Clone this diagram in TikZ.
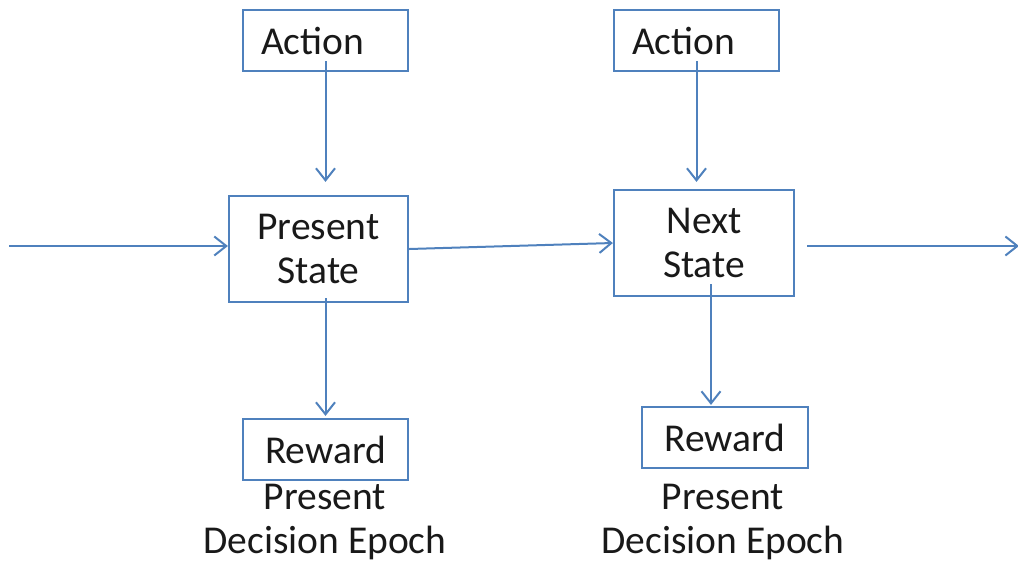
\documentclass[tikz,border=0pt]{standalone}
\usepackage{fontspec}
\setmainfont{Carlito}
\usetikzlibrary{arrows.meta}
\definecolor{lineblue}{HTML}{4F81BD}
\begin{document}
\begin{tikzpicture}[x=1pt,y=1pt,
  every node/.style={font=\fontsize{39.5}{44}\selectfont, text=black!90},
  box/.style={draw=lineblue, line width=2.2pt, inner sep=0pt, minimum height=61pt},
  statebox/.style={draw=lineblue, line width=2.2pt, inner sep=0pt, align=center, minimum height=106pt},
  leftbox/.style={box, text width=129pt, inner xsep=18pt, align=left},
  epoch/.style={align=center, inner sep=0pt},
  flow/.style={draw=lineblue, line width=2pt, -{Straight Barb[length=12pt,width=19pt]}}]
  \useasboundingbox (0,0) rectangle (1018,-563);

  % first decision epoch
  \node[leftbox] (a1) at (325.5,-40.5) {Action};
  \node[statebox, minimum width=179pt] (ps) at (318.5,-249) {Present\\State};
  \node[box, minimum width=165pt] (r1) at (325.5,-449.5) {Reward};
  \node[epoch] (e1) at (325,-522) {Present\\Decision Epoch};

  % second decision epoch
  \node[leftbox] (a2) at (696.5,-40.5) {Action};
  \node[statebox, minimum width=180pt] (ns) at (704,-243) {Next\\State};
  \node[box, minimum width=166pt] (r2) at (725,-437.5) {Reward};
  \node[epoch] (e2) at (723,-522) {Present\\Decision Epoch};

  % loose ends of the chain
  \coordinate (in) at (9,-246);
  \coordinate (outa) at (807,-246);
  \coordinate (outb) at (1019,-246);

  % connectors
  \draw[flow] (in) -- (in -| ps.west);
  \draw[flow] (ps.east) -- (ns.west);
  \draw[flow] (outa) -- (outb);
  \draw[flow] ([yshift=11pt]a1.south) -- ([yshift=13pt]a1.south |- ps.north);
  \draw[flow] ([yshift=11pt]a2.south) -- ([yshift=7pt]a2.south |- ns.north);
  \draw[flow] ([yshift=5pt]r1.north |- ps.south) -- ([yshift=2pt]r1.north);
  \draw[flow] ([xshift=7pt,yshift=13pt]ns.south) -- ([xshift=7pt,yshift=1pt]ns.south |- r2.north);
\end{tikzpicture}
\end{document}
